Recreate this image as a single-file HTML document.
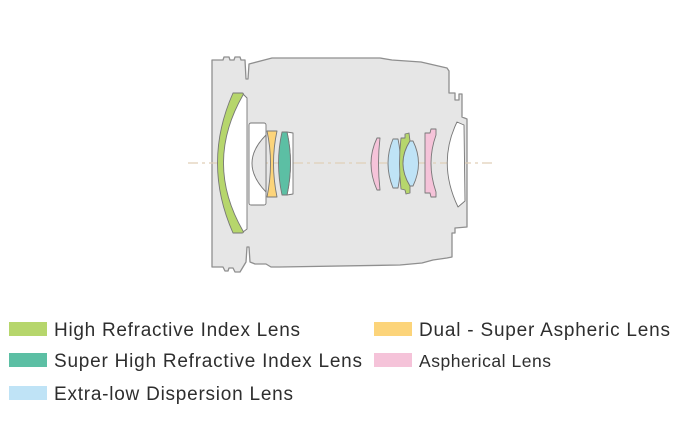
<!DOCTYPE html>
<html>
<head>
<meta charset="utf-8">
<style>
  html, body { margin:0; padding:0; background:#ffffff; }
  svg { display:block; }
  text { font-family: "Liberation Sans", "DejaVu Sans", sans-serif; fill:#2e2e2e; }
</style>
</head>
<body>
<svg width="680" height="425" viewBox="0 0 680 425" xmlns="http://www.w3.org/2000/svg">
  <rect x="0" y="0" width="680" height="425" fill="#ffffff"/>

  <!-- lens barrel body -->
  <path d="M212,60 L223,60 L224,57 L229,57 L230,60 L234,60 L235,57 L240,57 L241,60 L245,60 L246,79 L248,79 L249,64 L272,58 L380,58 L392,60 L421,62 L447,68 L449,71 L449,93 L455,93 L455,100 L459,100 L459,94 L462,94 L462,117 L467,119 L467,227 L455,228 L455,233 L452,233 L452,257 L447,258 L433,260 L422,263 L400,265 L280,267 L271,267 L266,264 L255,264 L250,262 L249,247 L247,247 L246,262 L243,267 L240,272 L235,272 L233,268 L229,268 L228,271 L225,271 L223,267 L212,267 Z"
        fill="#e6e6e6" stroke="#8f8f8f" stroke-width="1.3" stroke-linejoin="round"/>

  <!-- optical axis -->
  <line x1="188" y1="163" x2="492" y2="163" stroke="#e0cfb8" stroke-width="1.2" stroke-dasharray="10,4,3,4"/>

  <g stroke="#777777" stroke-width="0.9" stroke-linejoin="round">
    <!-- front white meniscus -->
    <path d="M243,94 L247,98 L247,229 L243,232 Q203,163 243,94 Z" fill="#ffffff"/>
    <!-- front green meniscus -->
    <path d="M233,93 L242,93 Q244,93 243,95 Q204,163 243,231 Q244,233 242,233 L233,233 Q202,163 233,93 Z" fill="#b6d66c"/>

    <!-- white block element with concave rear -->
    <rect x="249" y="123" width="17" height="82" rx="2" fill="#ffffff"/>
    <path d="M266,135 Q238,163 266,192 Z" fill="#e6e6e6"/>

    <!-- yellow dual super aspheric -->
    <path d="M267,131 L277,131 Q270,163 277,197 L267,197 Q274,163 267,131 Z" fill="#fcd47a"/>

    <!-- thin white behind teal -->
    <path d="M287,132 L293,133 L293,194 L287,195 Q294,163 287,132 Z" fill="#ffffff"/>
    <!-- teal super high refractive -->
    <path d="M282,132 L287,132 Q294,163 287,195 L282,195 Q275,163 282,132 Z" fill="#5cbfa4"/>

    <!-- rear group -->
    <path d="M377,138 L380,138 Q377,163 380,190 L377,190 Q365,163 377,138 Z" fill="#f5c3d9"/>
    <path d="M393,139 L398,139 Q403,163 398,188 L393,188 Q383,163 393,139 Z" fill="#bfe3f6"/>
    <path d="M401,138 L405,138 L405,134 L409,133 L410,141 Q396,163 410,186 L410,193 L406,194 L405,190 L401,189 Q398,163 401,138 Z" fill="#b6d66c"/>
    <path d="M410,141 L413,141 Q424,163 413,186 L410,186 Q396,163 410,141 Z" fill="#bfe3f6"/>
    <path d="M425,133 L430,133 L431,129 L436,129 L436,135 Q426,163 436,192 L436,197 L431,197 L430,193 L425,193 Z" fill="#f5c3d9"/>
    <path d="M457,122 L464,125 L465,201 L458,207 Q437,163 457,122 Z" fill="#ffffff"/>
  </g>

  <!-- legend -->
  <rect x="9" y="322" width="38" height="14" fill="#b6d66c"/>
  <rect x="9" y="353" width="38" height="14" fill="#5cbfa4"/>
  <rect x="9" y="386" width="38" height="14" fill="#bfe3f6"/>
  <rect x="374" y="322" width="38" height="14" fill="#fcd47a"/>
  <rect x="374" y="353" width="38" height="14" fill="#f5c3d9"/>

  <text x="54" y="336" font-size="19" textLength="246" lengthAdjust="spacing">High Refractive Index Lens</text>
  <text x="54" y="367" font-size="19" textLength="308" lengthAdjust="spacing">Super High Refractive Index Lens</text>
  <text x="54" y="400" font-size="19" textLength="239" lengthAdjust="spacing">Extra-low Dispersion Lens</text>
  <text x="419" y="336" font-size="19" textLength="251" lengthAdjust="spacing">Dual - Super Aspheric Lens</text>
  <text x="419" y="367" font-size="17.5" textLength="132" lengthAdjust="spacing">Aspherical Lens</text>
</svg>
</body>
</html>
